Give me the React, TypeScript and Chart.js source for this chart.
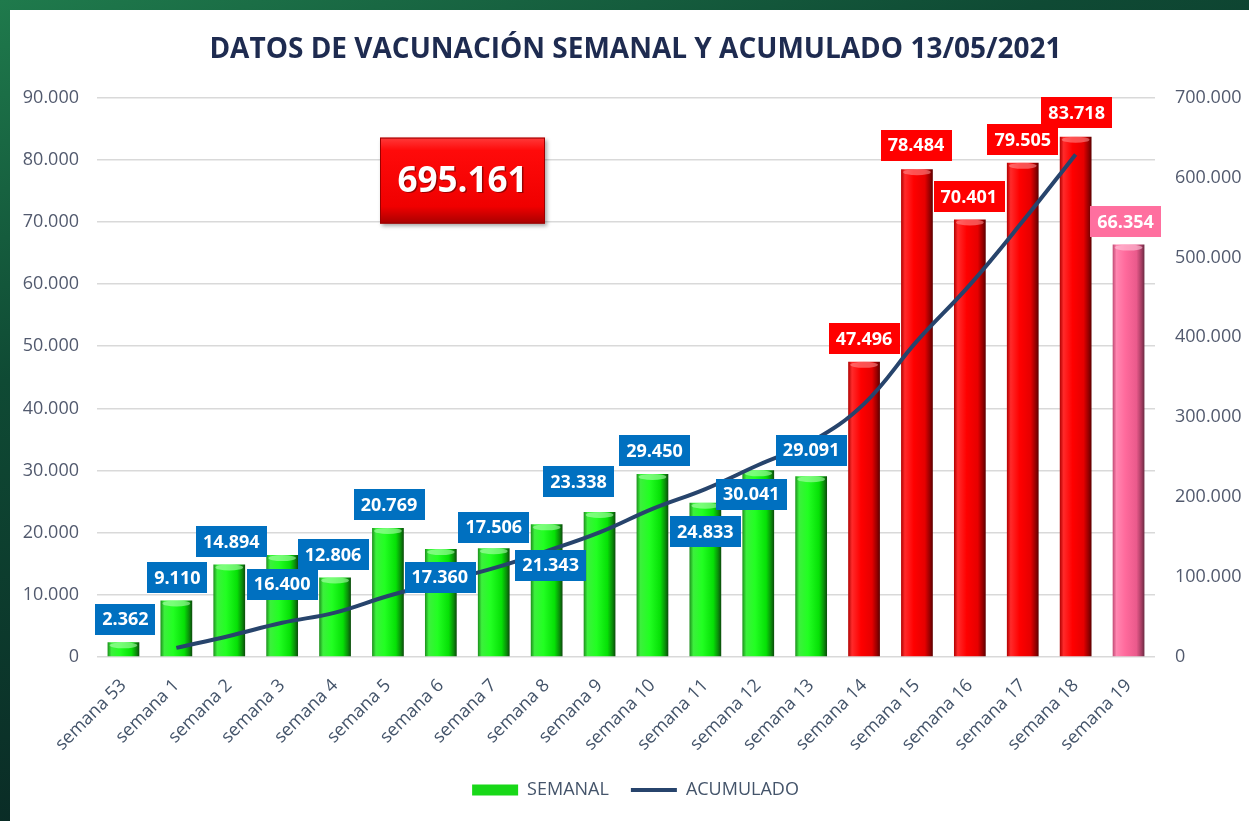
import React, { useEffect, useRef } from 'react';
import { Chart, registerables } from 'chart.js';

Chart.register(...registerables);

// ---------- data ----------
const WEEKS = [
  'semana 53', 'semana 1', 'semana 2', 'semana 3', 'semana 4', 'semana 5', 'semana 6',
  'semana 7', 'semana 8', 'semana 9', 'semana 10', 'semana 11', 'semana 12', 'semana 13',
  'semana 14', 'semana 15', 'semana 16', 'semana 17', 'semana 18', 'semana 19',
];
const SEMANAL = [
  2362, 9110, 14894, 16400, 12806, 20769, 17360, 17506, 21343, 23338,
  29450, 24833, 30041, 29091, 47496, 78484, 70401, 79505, 83718, 66354,
];
const ACUMULADO = [
  null, 11472, 26366, 42766, 55572, 76341, 93701, 111207, 132550, 155888,
  185338, 210171, 240212, 269303, 316799, 395283, 465684, 545189, 628907, null,
];
const TOTAL_LABEL = '695.161';
const TITLE = 'DATOS DE VACUNACIÓN SEMANAL Y ACUMULADO 13/05/2021';
const LEFT_MAX = 90000;
const LEFT_STEP = 10000;
const RIGHT_MAX = 700000;
const RIGHT_STEP = 100000;

// ---------- styling ----------
const BAR_PCT = 0.6;
const BAR_TONE = [
  'green', 'green', 'green', 'green', 'green', 'green', 'green', 'green', 'green', 'green',
  'green', 'green', 'green', 'green', 'red', 'red', 'red', 'red', 'red', 'pink',
];
const TONE_STOPS: Record<string, string[]> = {
  green: ['#1c8f1c', '#3cf03c', '#22ff22', '#06e006', '#0a8f0a', '#0b4a0b'],
  red: ['#b00000', '#ff2a2a', '#ff0000', '#e60000', '#980000', '#5c0000'],
  pink: ['#c04a74', '#ff86b0', '#ff6a9c', '#ea5a8c', '#a83e64', '#6c2a42'],
};
const TONE_CAP: Record<string, string> = {
  green: 'rgba(190,255,190,0.55)',
  red: 'rgba(255,150,150,0.55)',
  pink: 'rgba(255,200,220,0.6)',
};
const LABEL_FILL: Record<string, string> = {
  green: '#0070c0',
  red: '#ff0000',
  pink: '#ff6f9f',
};
// label nudges (px) relative to the default spot just above each bar
const LABEL_NUDGE = [
  [2, 0], [1, 0], [2, 0], [0, 52], [-2, 0], [1, 0], [-1, 51], [0, 2], [4, 64], [-21, -7],
  [2, 0], [0, 52], [-7, 47], [0, -3], [0, 0], [-1, -1], [-1, 0], [0, 0], [1, -1], [-3, 0],
];

const fmt = (n: number) => String(Math.round(n)).replace(/\B(?=(\d{3})+(?!\d))/g, '.');

const decorPlugin = {
  id: 'decor',
  afterDatasetDraw(chart: any, args: any) {
    if (args.index !== 0) return;
    const ctx = chart.ctx;
    const meta = chart.getDatasetMeta(0);
    ctx.save();
    meta.data.forEach((bar: any, i: number) => {
      const w = bar.width;
      if (!isFinite(w) || !isFinite(bar.x) || !isFinite(bar.y)) return;
      ctx.fillStyle = TONE_CAP[BAR_TONE[i]];
      ctx.beginPath();
      ctx.ellipse(bar.x, bar.y + 3, Math.max(1, w / 2 - 2), 3, 0, 0, Math.PI * 2);
      ctx.fill();
    });
    ctx.restore();
  },
  afterDatasetsDraw(chart: any) {
    const ctx = chart.ctx;
    const meta = chart.getDatasetMeta(0);
    const area = chart.chartArea;
    ctx.save();
    // total box
    const bx = area.left + 283;
    const by = area.top + 40;
    const bw = 165;
    const bh = 86;
    ctx.save();
    ctx.shadowColor = 'rgba(0,0,0,0.35)';
    ctx.shadowBlur = 4;
    ctx.shadowOffsetX = 2;
    ctx.shadowOffsetY = 2;
    const g = ctx.createLinearGradient(0, by, 0, by + bh);
    g.addColorStop(0, '#ff3a3a');
    g.addColorStop(0.15, '#ff0a0a');
    g.addColorStop(0.8, '#f00000');
    g.addColorStop(1, '#a80000');
    ctx.fillStyle = g;
    ctx.fillRect(bx, by, bw, bh);
    ctx.restore();
    ctx.strokeStyle = '#9a0000';
    ctx.lineWidth = 1;
    ctx.strokeRect(bx + 0.5, by + 0.5, bw - 1, bh - 1);
    ctx.font = 'bold 35px "Open Sans"';
    ctx.textAlign = 'center';
    ctx.textBaseline = 'middle';
    ctx.fillStyle = 'rgba(90,0,0,0.6)';
    ctx.fillText(TOTAL_LABEL, bx + bw / 2 + 1.5, by + bh / 2 + 2.5);
    ctx.fillStyle = '#ffffff';
    ctx.fillText(TOTAL_LABEL, bx + bw / 2, by + bh / 2 + 1);

    // data labels
    ctx.font = 'bold 18px "Open Sans"';
    meta.data.forEach((bar: any, i: number) => {
      const text = fmt(SEMANAL[i]);
      const [dx, dy] = LABEL_NUDGE[i];
      const cx = bar.x + dx;
      const cy = bar.y - 23 + dy;
      const w = ctx.measureText(text).width + 14;
      const h = 31;
      ctx.fillStyle = LABEL_FILL[BAR_TONE[i]];
      ctx.fillRect(Math.round(cx - w / 2), Math.round(cy - h / 2), Math.round(w), h);
      ctx.fillStyle = '#ffffff';
      ctx.fillText(text, cx, cy + 1);
    });
    ctx.restore();
  },
};

export default function App() {
  const ref = useRef<HTMLCanvasElement | null>(null);

  useEffect(() => {
    document.body.style.margin = '0';
    const canvas = ref.current;
    if (!canvas) return;
    Chart.defaults.font.family = '"Open Sans", sans-serif';

    const barColor = (c: any) => {
      const tone = BAR_TONE[c.dataIndex] || 'green';
      const stops = TONE_STOPS[tone];
      const chart = c.chart;
      const xs = chart && chart.scales && chart.scales.x;
      if (c.type !== 'data' || !xs || !chart.chartArea) return stops[2];
      const x = xs.getPixelForValue(c.dataIndex);
      const w = (xs.width / WEEKS.length) * BAR_PCT;
      if (!isFinite(x) || !isFinite(w) || w <= 0) return stops[2];
      const g = chart.ctx.createLinearGradient(x - w / 2, 0, x + w / 2, 0);
      g.addColorStop(0, stops[0]);
      g.addColorStop(0.12, stops[1]);
      g.addColorStop(0.4, stops[2]);
      g.addColorStop(0.75, stops[3]);
      g.addColorStop(0.9, stops[4]);
      g.addColorStop(1, stops[5]);
      return g;
    };

    const chart = new Chart(canvas, {
      type: 'bar',
      data: {
        labels: WEEKS,
        datasets: [
          {
            type: 'bar',
            label: 'SEMANAL',
            data: SEMANAL,
            backgroundColor: barColor,
            borderWidth: 0,
            barPercentage: BAR_PCT,
            categoryPercentage: 1,
            yAxisID: 'y',
            order: 1,
          } as any,
          {
            type: 'line',
            label: 'ACUMULADO',
            data: ACUMULADO,
            borderColor: '#27446c',
            backgroundColor: '#27446c',
            borderWidth: 4,
            pointRadius: 0,
            tension: 0.4,
            spanGaps: false,
            yAxisID: 'y1',
            order: 0,
          } as any,
        ],
      },
      options: {
        responsive: false,
        animation: false,
        devicePixelRatio: 1,
        layout: { padding: { left: 12, right: 0, top: 0, bottom: 12 } },
        plugins: {
          title: {
            display: true,
            text: TITLE,
            color: '#1e2b50',
            font: { size: 28, weight: 'bold', family: '"Open Sans", sans-serif' },
            padding: { top: 23, bottom: 31 },
          },
          legend: {
            display: true,
            position: 'bottom',
            labels: {
              usePointStyle: true,
              pointStyleWidth: 46,
              boxHeight: 11,
              padding: 22,
              color: '#44546a',
              font: { size: 18 },
              sort: (a: any, b: any) => a.datasetIndex - b.datasetIndex,
              generateLabels: (ch: any) => {
                const items = (Chart.defaults.plugins.legend.labels as any).generateLabels(ch);
                items.forEach((it: any) => {
                  if (it.datasetIndex === 0) {
                    it.fillStyle = '#18d818';
                    it.strokeStyle = '#18d818';
                    it.lineWidth = 0;
                    it.pointStyle = 'rect';
                  } else {
                    it.pointStyle = 'line';
                    it.strokeStyle = '#27446c';
                    it.lineWidth = 4;
                  }
                });
                return items;
              },
            },
          },
          tooltip: { enabled: false },
        },
        scales: {
          x: {
            grid: { display: false, drawTicks: false },
            border: { display: false },
            ticks: {
              autoSkip: false,
              minRotation: 45,
              maxRotation: 45,
              padding: 18,
              color: '#44546a',
              font: { size: 18 },
            },
            afterFit: (s: any) => { s.height = 102; },
          },
          y: {
            position: 'left',
            min: 0,
            max: LEFT_MAX,
            ticks: {
              stepSize: LEFT_STEP,
              padding: 18,
              color: '#525a6e',
              font: { size: 18 },
              callback: (v: any) => fmt(Number(v)),
            },
            grid: { color: '#d9d9d9', lineWidth: 1.5, drawTicks: false },
            border: { display: false },
            afterFit: (s: any) => { s.width = 75; },
          },
          y1: {
            position: 'right',
            min: 0,
            max: RIGHT_MAX,
            ticks: {
              stepSize: RIGHT_STEP,
              padding: 20,
              color: '#525a6e',
              font: { size: 18 },
              callback: (v: any) => fmt(Number(v)),
            },
            grid: { display: false, drawTicks: false },
            border: { display: false },
            afterFit: (s: any) => { s.width = 94; },
          },
        },
      } as any,
      plugins: [decorPlugin],
    });
    return () => chart.destroy();
  }, []);

  return (
    <div
      style={{
        position: 'fixed',
        left: 0,
        top: 0,
        width: 1249,
        height: 821,
        background: 'linear-gradient(160deg, #1f7a4c 0%, #0f4a34 30%, #0a2c26 65%, #061c18 100%)',
        overflow: 'hidden',
      }}
    >
      <div
        style={{
          position: 'absolute',
          left: 10,
          top: 10,
          width: 1239,
          height: 811,
          background: '#ffffff',
        }}
      >
        <canvas ref={ref} width={1239} height={811} style={{ display: 'block' }} />
      </div>
    </div>
  );
}
